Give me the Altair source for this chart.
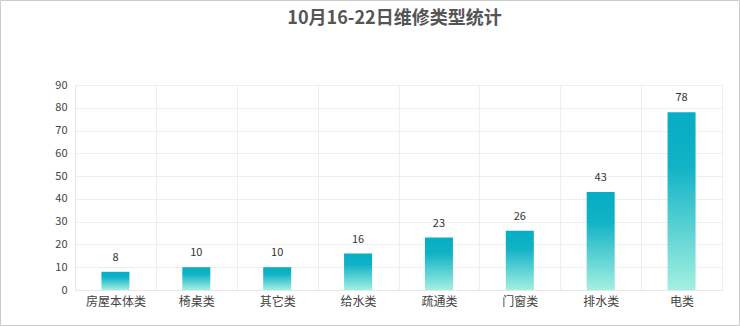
import altair as alt
import pandas as pd

categories = ["房屋本体类", "椅桌类", "其它类", "给水类", "疏通类", "门窗类", "排水类", "电类"]
counts = [8, 10, 10, 16, 23, 26, 43, 78]

df = pd.DataFrame({"cat": categories, "n": counts})

FONT = "Noto Sans CJK SC"

x = alt.X("cat:N", sort=categories, title=None,
          scale=alt.Scale(paddingInner=0, paddingOuter=0),
          axis=alt.Axis(labelAngle=0, labelFontSize=12, labelColor="#444", labelFont=FONT,
                        labelPadding=6, ticks=False, domainColor="#e6e6e6",
                        grid=True, gridColor="#eeeeee", tickBand="extent"))
y = alt.Y("n:Q", title=None,
          scale=alt.Scale(domain=[0, 90], nice=False),
          axis=alt.Axis(values=list(range(0, 91, 10)), labelFontSize=11, labelColor="#444",
                        labelFont=FONT, ticks=False, labelPadding=8, domainColor="#e6e6e6",
                        gridColor="#eeeeee", labelOverlap=False))

grad = alt.Gradient(gradient="linear", x1=0, x2=0, y1=0, y2=1,
                    stops=[alt.GradientStop(color="#07adc4", offset=0),
                           alt.GradientStop(color="#10b2c6", offset=0.3),
                           alt.GradientStop(color="#a3f0e1", offset=1)])

bars = alt.Chart(df).mark_bar(size=28, color=grad).encode(x=x, y=y)
labels = alt.Chart(df).mark_text(baseline="bottom", dy=-9, fontSize=11, color="#333", font=FONT).encode(
    x=x, y=y, text="n:Q")

border = alt.Chart(pd.DataFrame({"a": [0]})).mark_rect(fill=None, stroke="#cccccc", strokeWidth=1).encode(
    x=alt.value(-74.5), x2=alt.value(664.5), y=alt.value(-84.5), y2=alt.value(240.5))

chart = alt.layer(bars, labels, border).properties(
    width=647, height=205,
    autosize=alt.AutoSizeParams(type="none"),
    padding={"left": 75, "top": 85, "right": 18, "bottom": 36},
    title=alt.TitleParams("10月16-22日维修类型统计", fontSize=18, fontWeight="bold", color="#555",
                          font=FONT, anchor="middle", offset=-28, dx=-4),
).configure_view(stroke="#e6e6e6")

chart.save("out.html", embed_options={"renderer": "svg", "actions": False})
